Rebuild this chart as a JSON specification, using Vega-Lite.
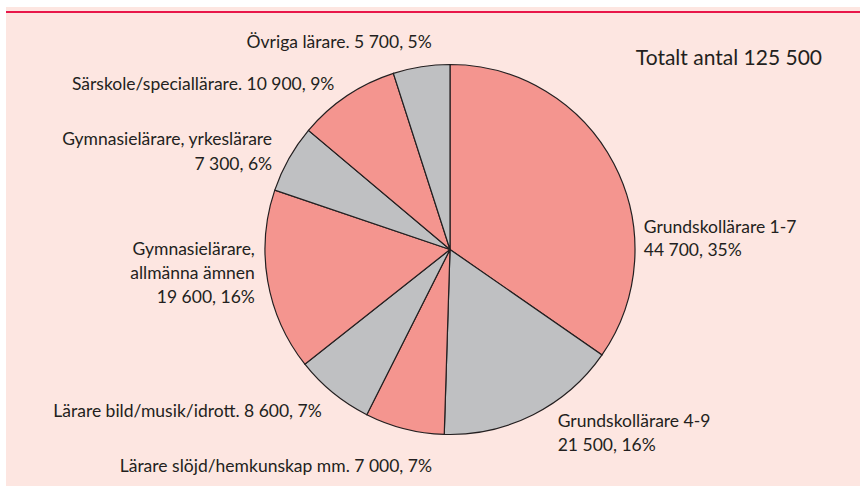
{
  "$schema": "https://vega.github.io/schema/vega-lite/v6.json",
  "padding": {"left": 6, "top": 7, "right": 0, "bottom": 0},
  "background": "#ffffff",
  "config": {
    "view": {"stroke": null},
    "font": "Lato",
    "concat": {"spacing": 0}
  },
  "datasets": {
    "larare": [
      {"nr": 1, "kategori": "Grundskollärare 1-7", "antal": 44700, "pct": 35, "etikett": "Grundskollärare 1-7\n44 700, 35%"},
      {"nr": 2, "kategori": "Grundskollärare 4-9", "antal": 21500, "pct": 16, "etikett": "Grundskollärare 4-9\n21 500, 16%"},
      {"nr": 3, "kategori": "Lärare slöjd/hemkunskap mm.", "antal": 7000, "pct": 7, "etikett": "Lärare slöjd/hemkunskap mm. 7 000, 7%"},
      {"nr": 4, "kategori": "Lärare bild/musik/idrott", "antal": 8600, "pct": 7, "etikett": "Lärare bild/musik/idrott. 8 600, 7%"},
      {"nr": 5, "kategori": "Gymnasielärare, allmänna ämnen", "antal": 19600, "pct": 16, "etikett": "Gymnasielärare,\nallmänna ämnen\n19 600, 16%"},
      {"nr": 6, "kategori": "Gymnasielärare, yrkeslärare", "antal": 7300, "pct": 6, "etikett": "Gymnasielärare, yrkeslärare\n7 300, 6%"},
      {"nr": 7, "kategori": "Särskole/speciallärare", "antal": 10900, "pct": 9, "etikett": "Särskole/speciallärare. 10 900, 9%"},
      {"nr": 8, "kategori": "Övriga lärare", "antal": 5700, "pct": 5, "etikett": "Övriga lärare. 5 700, 5%"}
    ]
  },
  "spacing": 0,
  "bounds": "flush",
  "vconcat": [
    {
      "width": 854, "height": 4,
      "view": {"fill": "#fde6e1", "stroke": null},
      "data": {"values": []},
      "mark": "point"
    },
    {
      "width": 854, "height": 2,
      "view": {"fill": "#e8174a", "stroke": null},
      "data": {"values": []},
      "mark": "point"
    },
    {
      "spacing": 0,
      "bounds": "flush",
      "hconcat": [
        {
          "width": 34, "height": 473,
          "view": {"fill": "#fde6e1", "stroke": null},
          "data": {"values": []},
          "mark": "point"
        },
        {
          "width": 820, "height": 473,
          "view": {"fill": "#fde6e1", "stroke": null},
          "title": {
            "text": "Totalt antal 125 500",
            "orient": "top", "anchor": "end", "frame": "group",
            "offset": -67, "baseline": "middle", "dx": -38,
            "fontSize": 21, "fontWeight": "normal", "font": "Lato", "color": "#231f20"
          },
          "data": {"name": "larare"},
          "encoding": {
            "theta": {"field": "pct", "type": "quantitative", "stack": true},
            "order": {"field": "nr", "type": "quantitative"}
          },
          "layer": [
            {
              "mark": {"type": "arc", "outerRadius": 185, "stroke": "#231f20", "strokeWidth": 1.2},
              "encoding": {
                "color": {
                  "field": "kategori", "type": "nominal", "legend": null,
                  "scale": {
                    "domain": ["Grundskollärare 1-7", "Grundskollärare 4-9", "Lärare slöjd/hemkunskap mm.", "Lärare bild/musik/idrott", "Gymnasielärare, allmänna ämnen", "Gymnasielärare, yrkeslärare", "Särskole/speciallärare", "Övriga lärare"],
                    "range": ["#f4958f", "#bfc0c2", "#f4958f", "#bfc0c2", "#f4958f", "#bfc0c2", "#f4958f", "#bfc0c2"]
                  }
                }
              }
            },
            {
              "mark": {"type": "text", "radius": 195, "align": "left", "baseline": "middle", "dx": 21, "dy": 69, "lineBreak": "\n", "lineHeight": 23, "fontSize": 17.5, "font": "Lato", "fill": "#231f20"},
              "encoding": {"text": {"condition": {"test": "datum.nr == 1", "field": "etikett"}, "value": ""}}
            },
            {
              "mark": {"type": "text", "radius": 195, "align": "left", "baseline": "middle", "dx": 20, "dy": -2, "lineBreak": "\n", "lineHeight": 24, "fontSize": 17.5, "font": "Lato", "fill": "#231f20"},
              "encoding": {"text": {"condition": {"test": "datum.nr == 2", "field": "etikett"}, "value": ""}}
            },
            {
              "mark": {"type": "text", "radius": 195, "align": "right", "baseline": "middle", "dx": 30, "dy": 29, "fontSize": 17.5, "font": "Lato", "fill": "#231f20"},
              "encoding": {"text": {"condition": {"test": "datum.nr == 3", "field": "etikett"}, "value": ""}}
            },
            {
              "mark": {"type": "text", "radius": 195, "align": "right", "baseline": "middle", "dx": -5, "dy": 11, "fontSize": 17.5, "font": "Lato", "fill": "#231f20"},
              "encoding": {"text": {"condition": {"test": "datum.nr == 4", "field": "etikett"}, "value": ""}}
            },
            {
              "mark": {"type": "text", "radius": 195, "align": "right", "baseline": "middle", "dx": -3, "dy": -33, "lineBreak": "\n", "lineHeight": 24, "fontSize": 17.5, "font": "Lato", "fill": "#231f20"},
              "encoding": {"text": {"condition": {"test": "datum.nr == 5", "field": "etikett"}, "value": ""}}
            },
            {
              "mark": {"type": "text", "radius": 195, "align": "right", "baseline": "middle", "dx": -8, "dy": -14, "lineBreak": "\n", "lineHeight": 25, "fontSize": 17.5, "font": "Lato", "fill": "#231f20"},
              "encoding": {"text": {"condition": {"test": "datum.nr == 6", "field": "etikett"}, "value": ""}}
            },
            {
              "mark": {"type": "text", "radius": 195, "align": "right", "baseline": "middle", "dx": -7, "dy": -3, "fontSize": 17.5, "font": "Lato", "fill": "#231f20"},
              "encoding": {"text": {"condition": {"test": "datum.nr == 7", "field": "etikett"}, "value": ""}}
            },
            {
              "mark": {"type": "text", "radius": 195, "align": "right", "baseline": "middle", "dx": 12, "dy": -14, "fontSize": 17.5, "font": "Lato", "fill": "#231f20"},
              "encoding": {"text": {"condition": {"test": "datum.nr == 8", "field": "etikett"}, "value": ""}}
            }
          ]
        }
      ]
    }
  ]
}
